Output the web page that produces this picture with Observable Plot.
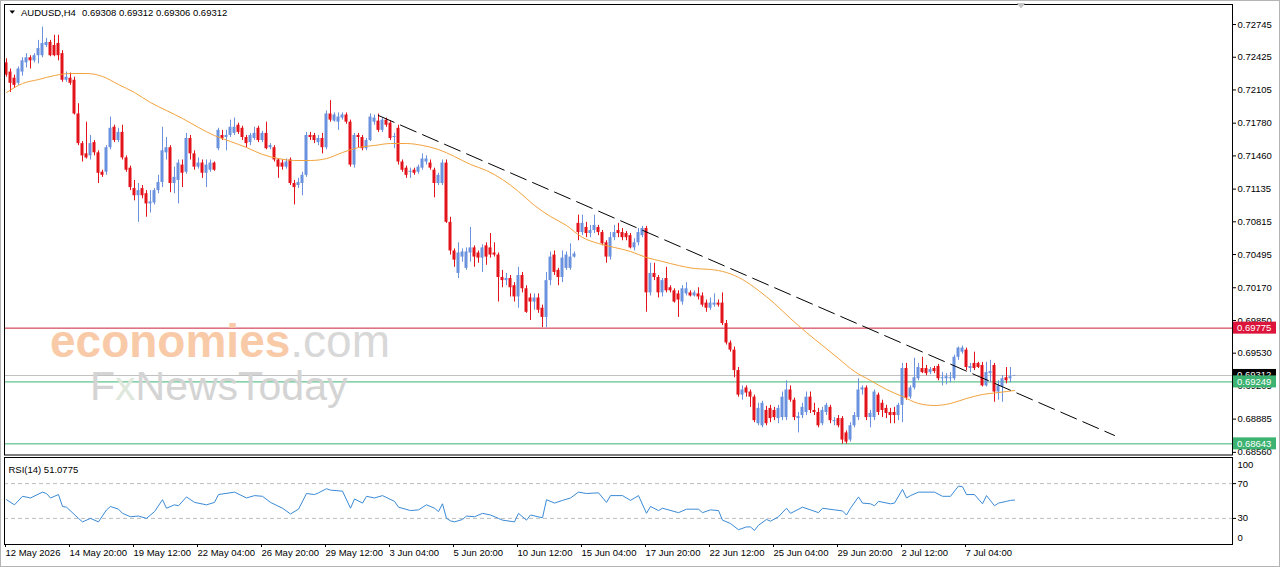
<!DOCTYPE html>
<html>
<head>
<meta charset="utf-8">
<script src="https://cdn.jsdelivr.net/npm/d3@7"></script>
<script src="https://cdn.jsdelivr.net/npm/@observablehq/plot@0.6"></script>
<style>
html,body{margin:0;padding:0;background:#fff;}
#wrap{position:relative;width:1280px;height:567px;overflow:hidden;background:#fff;font-family:"Liberation Sans",Arial,sans-serif;}
#wrap svg{display:block;}
#overlay{position:absolute;left:0;top:0;pointer-events:none;}
</style>
</head>
<body>
<div id="wrap">
  <div id="price"></div>
  <div id="rsi"></div>
</div>
<script>
// ---------------- DATA ----------------
const symbolTitle = "AUDUSD,H4";
const lastQuote = "0.69308 0.69312 0.69306 0.69312";
const rsiTitle = "RSI(14) 51.0775";

const open = [
.7237,.7228,.7222,.7217,.7228,.7237,.7242,.7239,.7244,.7244,
.7254,.7257,.7254,.7256,.7246,.7220,.7222,.7220,.7187,.7158,
.7148,.7146,.7159,.7149,.7130,.7130,.7154,.7174,.7161,.7169,
.7144,.7134,.7114,.7107,.7114,.7109,.7099,.7100,.7112,.7120,
.7149,.7154,.7119,.7122,.7137,.7130,.7163,.7148,.7135,.7139,
.7129,.7132,.7139,.7153,.7166,.7164,.7166,.7168,.7176,.7173,
.7164,.7159,.7163,.7173,.7161,.7168,.7154,.7154,.7142,.7139,
.7135,.7142,.7119,.7117,.7119,.7127,.7166,.7166,.7159,.7163,
.7154,.7187,.7180,.7179,.7183,.7186,.7179,.7137,.7166,.7164,
.7153,.7161,.7179,.7180,.7171,.7181,.7178,.7164,.7173,.7140,
.7134,.7130,.7132,.7130,.7134,.7140,.7139,.7132,.7119,.7119,
.7139,.7081,.7053,.7031,.7047,.7036,.7051,.7056,.7051,.7046,
.7058,.7056,.7051,.7049,.7027,.7024,.7026,.7019,.7008,.7029,
.7016,.7007,.7003,.7007,.6997,.6988,.7024,.7049,.7034,.7027,
.7036,.7036,.7047,.7080,.7071,.7076,.7070,.7073,.7076,.7071,
.7061,.7047,.7066,.7073,.7071,.7070,.7068,.7056,.7061,.7068,
.7075,.7012,.7031,.7027,.7012,.7026,.7017,.7014,.7011,.7003,
.7011,.7012,.7009,.7011,.7009,.7002,.6997,.7000,.7002,.7002,
.6982,.6963,.6956,.6936,.6912,.6919,.6915,.6910,.6884,.6882,
.6897,.6899,.6897,.6889,.6890,.6890,.6917,.6907,.6889,.6892,
.6895,.6910,.6897,.6895,.6884,.6895,.6900,.6886,.6889,.6889,
.6875,.6868,.6882,.6890,.6917,.6919,.6890,.6890,.6912,.6904,
.6899,.6895,.6895,.6892,.6902,.6938,.6910,.6919,.6928,.6938,
.6938,.6934,.6938,.6940,.6928,.6928,.6928,.6928,.6949,.6954,
.6956,.6938,.6943,.6943,.6941,.6921,.6933,.6941,.6915,.6920,
.6929,.6928,.69308];

const high = [
.7241,.7231,.7225,.7233,.7242,.7246,.7244,.7246,.7259,.7272,
.7261,.7259,.7264,.7264,.7249,.7228,.7227,.7223,.7197,.7160,
.7179,.7166,.7161,.7151,.7132,.7156,.7184,.7176,.7173,.7176,
.7146,.7136,.7122,.7119,.7117,.7112,.7112,.7114,.7127,.7174,
.7164,.7156,.7135,.7142,.7142,.7168,.7166,.7151,.7144,.7142,
.7142,.7142,.7140,.7173,.7171,.7171,.7181,.7183,.7178,.7175,
.7166,.7168,.7174,.7175,.7170,.7179,.7158,.7156,.7143,.7142,
.7143,.7144,.7122,.7124,.7130,.7169,.7169,.7168,.7166,.7168,
.7190,.7200,.7188,.7188,.7188,.7188,.7181,.7168,.7168,.7166,
.7163,.7187,.7186,.7187,.7183,.7183,.7180,.7168,.7176,.7142,
.7136,.7134,.7134,.7137,.7148,.7146,.7142,.7134,.7129,.7142,
.7142,.7086,.7055,.7061,.7055,.7056,.7076,.7058,.7053,.7059,
.7061,.7070,.7061,.7051,.7034,.7031,.7029,.7022,.7037,.7032,
.7019,.7011,.7011,.7011,.7000,.7032,.7052,.7053,.7036,.7053,
.7052,.7060,.7052,.7088,.7088,.7081,.7078,.7088,.7078,.7073,
.7063,.7071,.7078,.7080,.7075,.7072,.7070,.7065,.7075,.7077,
.7077,.7041,.7041,.7029,.7026,.7037,.7019,.7016,.7014,.7019,
.7022,.7014,.7014,.7017,.7012,.7005,.7007,.7011,.7005,.7012,
.6985,.6965,.6959,.6939,.6921,.6921,.6917,.6912,.6904,.6906,
.6901,.6902,.6900,.6902,.6915,.6926,.6921,.6909,.6895,.6904,
.6915,.6915,.6904,.6899,.6900,.6904,.6902,.6890,.6892,.6891,
.6877,.6885,.6895,.6928,.6921,.6921,.6897,.6917,.6914,.6907,
.6902,.6899,.6900,.6904,.6943,.6943,.6921,.6948,.6943,.6949,
.6941,.6939,.6940,.6942,.6934,.6933,.6934,.6951,.6959,.6960,
.6958,.6943,.6954,.6944,.6944,.6944,.6946,.6943,.6926,.6931,
.6939,.6939,.69312];

const low = [
.7223,.7208,.7212,.7215,.7224,.7232,.7231,.7237,.7236,.7242,
.7252,.7243,.7243,.7239,.7218,.7218,.7215,.7186,.7156,.7140,
.7143,.7142,.7146,.7119,.7125,.7127,.7152,.7159,.7159,.7142,
.7130,.7112,.7102,.7081,.7104,.7086,.7090,.7098,.7109,.7115,
.7142,.7110,.7109,.7099,.7115,.7128,.7142,.7132,.7133,.7124,
.7115,.7130,.7131,.7151,.7161,.7151,.7164,.7166,.7167,.7161,
.7154,.7156,.7161,.7159,.7159,.7152,.7152,.7140,.7124,.7132,
.7133,.7117,.7098,.7114,.7107,.7125,.7161,.7158,.7156,.7148,
.7152,.7179,.7179,.7171,.7181,.7177,.7135,.7134,.7154,.7151,
.7151,.7160,.7176,.7169,.7169,.7174,.7161,.7153,.7137,.7130,
.7124,.7124,.7127,.7128,.7132,.7137,.7132,.7105,.7117,.7117,
.7080,.7049,.7037,.7026,.7042,.7034,.7042,.7037,.7041,.7032,
.7039,.7046,.7047,.7003,.7017,.7019,.7008,.7003,.6997,.7012,
.6992,.6985,.6995,.6992,.6978,.6978,.7019,.7029,.7019,.7022,
.7034,.7034,.7046,.7063,.7068,.7066,.7066,.7070,.7068,.7058,
.7041,.7044,.7063,.7066,.7063,.7063,.7055,.7053,.7058,.7066,
.6993,.7009,.7024,.7007,.7008,.7012,.7012,.7002,.6988,.7000,
.7009,.7008,.7008,.7005,.6998,.6993,.6995,.6998,.6998,.6980,
.6961,.6954,.6929,.6910,.6907,.6910,.6900,.6885,.6882,.6880,
.6882,.6885,.6887,.6884,.6887,.6887,.6905,.6887,.6875,.6889,
.6892,.6894,.6892,.6880,.6882,.6892,.6884,.6882,.6880,.6864,
.6864,.6866,.6880,.6887,.6912,.6887,.6880,.6887,.6892,.6890,
.6889,.6884,.6884,.6887,.6885,.6907,.6908,.6917,.6926,.6933,
.6931,.6932,.6933,.6926,.6921,.6922,.6924,.6926,.6946,.6952,
.6936,.6934,.6936,.6938,.6920,.6920,.6924,.6905,.6907,.6905,
.6923,.6924,.69306];

const close = [
.7225,.7217,.7215,.7231,.7239,.7242,.7239,.7244,.7251,.7256,
.7257,.7244,.7244,.7244,.7220,.7223,.7217,.7187,.7158,.7146,
.7144,.7158,.7149,.7129,.7127,.7154,.7173,.7161,.7169,.7144,
.7132,.7115,.7107,.7112,.7107,.7099,.7101,.7112,.7120,.7151,
.7154,.7119,.7125,.7139,.7129,.7163,.7148,.7135,.7139,.7129,
.7137,.7139,.7132,.7171,.7163,.7166,.7174,.7174,.7169,.7164,
.7158,.7166,.7168,.7161,.7168,.7153,.7156,.7142,.7135,.7135,
.7140,.7119,.7115,.7120,.7127,.7166,.7164,.7161,.7163,.7154,
.7187,.7181,.7186,.7184,.7186,.7179,.7137,.7166,.7164,.7153,
.7161,.7184,.7183,.7171,.7181,.7176,.7163,.7165,.7140,.7132,
.7127,.7131,.7129,.7135,.7143,.7143,.7134,.7119,.7127,.7139,
.7081,.7053,.7044,.7051,.7052,.7052,.7056,.7047,.7046,.7056,
.7047,.7049,.7049,.7027,.7024,.7026,.7017,.7008,.7029,.7016,
.6993,.7003,.7007,.6995,.6988,.7024,.7047,.7032,.7027,.7046,
.7049,.7047,.7050,.7071,.7080,.7070,.7073,.7078,.7071,.7060,
.7047,.7066,.7071,.7070,.7066,.7066,.7056,.7061,.7071,.7075,
.7012,.7031,.7027,.7012,.7024,.7014,.7014,.7003,.7005,.7016,
.7016,.7009,.7012,.7008,.7000,.6997,.7002,.7002,.7000,.6982,
.6963,.6956,.6936,.6912,.6917,.6914,.6910,.6887,.6899,.6904,
.6884,.6889,.6890,.6899,.6910,.6917,.6907,.6890,.6891,.6900,
.6910,.6897,.6895,.6882,.6897,.6902,.6887,.6887,.6882,.6868,
.6866,.6882,.6892,.6917,.6919,.6890,.6894,.6915,.6895,.6897,
.6894,.6892,.6892,.6902,.6938,.6909,.6919,.6929,.6939,.6934,
.6933,.6937,.6935,.6928,.6929,.6930,.6929,.6949,.6958,.6958,
.6939,.6940,.6938,.6939,.6921,.6934,.6935,.6915,.6921,.6928,
.6926,.6930,.69312];

// moving average (every 4th bar)
const maBars = [0,4,8,12,16,20,24,28,32,36,40,44,48,52,56,60,64,68,72,76,80,84,88,92,96,100,104,108,112,116,120,124,128,132,136,140,144,148,152,156,160,164,168,172,176,180,184,188,192,196,200,204,208,212,216,220,224,228,232,236,240,244,248,252];
const maVals = [0.72080,0.72168,0.72207,0.72246,0.72266,0.72266,0.72237,0.72158,0.72080,0.71982,0.71904,0.71826,0.71738,0.71659,0.71601,0.71542,0.71474,0.71434,0.71415,0.71415,0.71434,0.71493,0.71542,0.71562,0.71581,0.71581,0.71562,0.71522,0.71454,0.71376,0.71317,0.71229,0.71112,0.70975,0.70867,0.70779,0.70662,0.70603,0.70564,0.70525,0.70466,0.70427,0.70388,0.70358,0.70349,0.70319,0.70251,0.70143,0.70016,0.69869,0.69732,0.69605,0.69478,0.69351,0.69263,0.69175,0.69106,0.69038,0.69018,0.69038,0.69087,0.69126,0.69145,0.69165];

// RSI(14)
const rsiBars = [0,2,4,6,9,10,11,13,14,15,18,19,21,23,25,26,28,29,31,33,35,37,39,40,42,43,45,47,50,52,53,57,60,62,64,66,69,71,73,75,77,78,80,81,84,86,87,89,90,92,94,97,98,101,103,105,107,108,109,110,111,112,114,115,117,119,121,123,124,127,128,130,131,134,135,137,139,141,143,145,148,150,151,154,156,158,160,161,163,164,168,170,173,174,176,178,179,181,183,185,186,187,188,190,191,193,195,196,199,201,203,204,207,209,210,211,213,214,216,217,218,221,222,224,225,226,228,232,234,236,238,239,240,242,244,245,247,248,250,251,252];
const rsiVals = [51.5,45.6,55.4,53.5,60.2,58.6,53.5,57.4,43.7,42.9,30.0,26.0,30.0,26.0,39.8,43.7,40.6,35.8,31.9,32.7,30.0,37.8,51.5,41.7,45.6,44.5,54.7,48.4,45.6,48.4,57.4,60.2,53.5,56.2,55.4,48.4,41.7,35.1,40.6,58.6,57.4,59.4,64.1,62.5,61.3,41.7,52.3,47.6,55.4,53.5,56.2,49.6,42.9,39.0,39.8,45.6,41.7,37.8,46.8,30.0,27.2,26.0,28.8,32.7,31.9,35.8,33.9,30.0,28.0,26.0,35.8,28.0,33.9,30.7,51.5,47.6,50.7,53.5,60.2,58.6,59.4,48.4,56.2,56.2,50.7,56.2,35.9,43.7,39.0,41.7,36.6,40.6,40.6,36.6,39.8,39.0,28.0,24.1,17.0,20.2,20.2,16.2,22.1,28.8,26.8,31.9,41.7,35.8,42.9,39.8,36.6,41.7,39.8,38.6,33.9,41.7,54.7,47.6,46.8,44.5,49.6,46.8,47.6,63.3,53.5,56.2,60.2,60.2,55.4,55.4,67.2,66.4,57.4,57.4,46.8,56.2,44.5,47.6,49.6,50.7,51.1];
const rsiLevels = [70, 30];

// trend line (two anchor bars / prices)
const trendBars = [93, 277];
const trendPrices = [0.71855, 0.68725];

// horizontal levels
const levelValues = [0.69775, 0.69249, 0.68643];
const levelColors = ["#c8203c", "#3cb371", "#3cb371"];
const bidPrice = 0.69312;

// price tags on the axis
const tagValues = [0.69775, 0.69312, 0.69249, 0.68643];
const tagColors = ["#dc143c", "#000000", "#3cb371", "#3cb371"];

// axis ticks
const priceTicks = [0.72745,0.72425,0.72105,0.71780,0.71460,0.71135,0.70815,0.70495,0.70170,0.69850,0.69530,0.69205,0.68885,0.68560];
const tickBars = [0,16,32,48,64,80,96,112,128,144,160,176,192,208,224,240];
const tickLabels = ["12 May 2026","14 May 20:00","19 May 12:00","22 May 04:00","26 May 20:00","29 May 12:00","3 Jun 04:00","5 Jun 20:00","10 Jun 12:00","15 Jun 04:00","17 Jun 20:00","22 Jun 12:00","25 Jun 04:00","29 Jun 20:00","2 Jul 12:00","7 Jul 04:00"];

// ---------------- CHART ----------------
const bull = "#6a92de", bear = "#e3131b";
const maColor = "#f2a23c", rsiColor = "#3a8ad6";
const font = '"Liberation Sans", Arial, sans-serif';
const bars = close.map((c, i) => ({i, o: open[i], h: high[i], l: low[i], c}));
const ma = maBars.map((b, k) => ({b, v: maVals[k]}));
const trend = trendBars.map((b, k) => ({b, v: trendPrices[k]}));
const rsi = rsiBars.map((b, k) => ({b, v: rsiVals[k]}));
const xDomain = [-0.5, 306.5];
const baseStyle = {fontFamily: font, fontSize: "9.5px", background: "transparent", color: "#000", overflow: "visible"};
const candleColor = d => d.c >= d.o ? bull : bear;

const pricePlot = Plot.plot({
  width: 1280, height: 456,
  marginLeft: 4, marginRight: 48, marginTop: 4, marginBottom: 1.5,
  style: baseStyle,
  x: {domain: xDomain, axis: null},
  y: {domain: [0.68534, 0.72941], axis: null},
  marks: [
    Plot.ruleY([bidPrice], {stroke: "#c0c0c0"}),
    Plot.ruleY(levelValues, {y: d => d, stroke: (d, i) => levelColors[i]}),
    Plot.ruleX(bars, {x: "i", y1: "l", y2: "h", stroke: candleColor}),
    Plot.rect(bars, {x1: d => d.i - 0.375, x2: d => d.i + 0.375, y1: "o", y2: "c", fill: candleColor}),
    Plot.line(ma, {x: "b", y: "v", stroke: maColor, strokeWidth: 1, curve: "monotone-x"}),
    Plot.line(trend, {x: "b", y: "v", stroke: "#000", strokeWidth: 1, strokeDasharray: "17,7"}),
    Plot.axisY({anchor: "right", label: null, ticks: priceTicks, tickFormat: d => d.toFixed(5), tickSize: 3, tickPadding: 2}),
    Plot.frame({stroke: "#000"})
  ]
});
document.getElementById("price").appendChild(pricePlot);

// axis price tags, positioned through the plot's own scales
{
  const sy = pricePlot.scale("y");
  const sx = pricePlot.scale("x");
  const xr = sx.range[1];
  const g = d3.select(pricePlot).append("g")
    .attr("font-family", font).attr("font-size", "9.5px").attr("text-anchor", "start");
  tagValues.forEach((v, k) => {
    const y = sy.apply(v);
    g.append("rect").attr("x", xr + 1).attr("y", y - 6).attr("width", 43).attr("height", 12).attr("fill", tagColors[k]);
    g.append("text").attr("x", xr + 5).attr("y", y).attr("dy", "0.36em")
      .attr("text-anchor", "start").attr("fill", "#fff").text(v.toFixed(5));
  });
}

const rsiPlot = Plot.plot({
  width: 1280, height: 111,
  marginLeft: 4, marginRight: 48, marginTop: 1, marginBottom: 23,
  style: baseStyle,
  x: {domain: xDomain, axis: null},
  y: {domain: [0, 100], axis: null},
  marks: [
    Plot.ruleY(rsiLevels, {stroke: "#bdbdbd", strokeDasharray: "4,3"}),
    Plot.line(rsi, {x: "b", y: "v", stroke: rsiColor, strokeWidth: 1}),
    Plot.axisY({anchor: "right", label: null, ticks: rsiLevels, tickSize: 3, tickPadding: 2}),
    Plot.text([100], {y: d => d, text: d => String(d), frameAnchor: "right", dx: 5, dy: 7, textAnchor: "start", fill: "#000"}),
    Plot.text([0], {y: d => d, text: d => String(d), frameAnchor: "right", dx: 5, dy: -7, textAnchor: "start", fill: "#000"}),
    Plot.axisX({anchor: "bottom", label: null, ticks: tickBars, tickFormat: d => tickLabels[tickBars.indexOf(d)], tickSize: 3, tickPadding: 2, textAnchor: "start", dx: -1}),
    Plot.text([rsiTitle], {text: d => d, frameAnchor: "top-left", dx: 4, dy: 9, textAnchor: "start", fill: "#000"}),
    Plot.frame({stroke: "#000"})
  ]
});
document.getElementById("rsi").appendChild(rsiPlot);

// header, watermark and decorations
const ov = d3.select("#wrap").append("svg").attr("id", "overlay").attr("width", 1280).attr("height", 567)
  .attr("font-family", font);
ov.append("rect").attr("x", 0.5).attr("y", 0.5).attr("width", 1279).attr("height", 566).attr("fill", "none").attr("stroke", "#b4b4b4");
ov.append("path").attr("d", "M9.5 10.5 L15 10.5 L12.25 13.8 Z").attr("fill", "#000");
ov.append("text").attr("x", 21).attr("y", 16).attr("font-size", "9.5px").attr("fill", "#000").text(symbolTitle);
ov.append("text").attr("x", 82).attr("y", 16).attr("font-size", "9.5px").attr("fill", "#000").text(lastQuote);
ov.append("path").attr("d", "M1016.5 3 L1025.5 3 L1021 8.5 Z").attr("fill", "#c4c4c4");
const wm = ov.append("text").attr("x", 50).attr("y", 357).attr("font-size", "46px");
wm.append("tspan").attr("fill", "#f9caa8").attr("font-weight", "bold").text("economies");
wm.append("tspan").attr("fill", "#d8d8d8").text(".com");
const fx = ov.append("text").attr("x", 90).attr("y", 400).attr("font-size", "41px");
fx.append("tspan").attr("fill", "#d4d4d4").text("F");
fx.append("tspan").attr("fill", "#dfe8dc").text("x");
fx.append("tspan").attr("fill", "#d4d4d4").text("NewsToday");
</script>
</body>
</html>
